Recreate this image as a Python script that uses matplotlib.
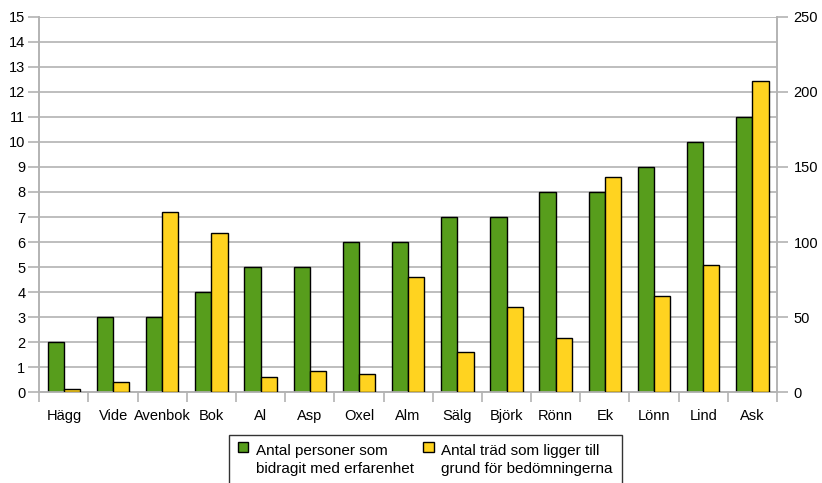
import matplotlib
matplotlib.use("Agg")
import matplotlib.pyplot as plt
from matplotlib.patches import Rectangle
from matplotlib.legend_handler import HandlerBase
import numpy as np

categories = ["Hägg", "Vide", "Avenbok", "Bok", "Al", "Asp", "Oxel", "Alm",
              "Sälg", "Björk", "Rönn", "Ek", "Lönn", "Lind", "Ask"]
personer = [2, 3, 3, 4, 5, 5, 6, 6, 7, 7, 8, 8, 9, 10, 11]
trad = [2, 7, 120, 106, 10, 14, 12, 77, 27, 57, 36, 143, 64, 85, 207]
label_personer = "Antal personer som\nbidragit med erfarenhet"
label_trad = "Antal träd som ligger till\ngrund för bedömningerna"

plt.rcParams['font.family'] = ['Liberation Sans', 'DejaVu Sans']
plt.rcParams['font.size'] = 10.5

fig = plt.figure(figsize=(8.22, 4.83), dpi=100)
W, H = 822, 483
left, right, top, bottom = 39.3, 777, 16.7, 392.3
ax = fig.add_axes([left / W, 1 - bottom / H, (right - left) / W, (bottom - top) / H])
ax2 = ax.twinx()

x = np.arange(len(categories))
bw = 0.33
green = "#579d1c"
yellow = "#ffd320"
b1 = ax.bar(x - bw / 2, personer, bw, color=green, edgecolor="black", linewidth=1.0,
            label=label_personer, zorder=3)
b2 = ax2.bar(x + bw / 2, trad, bw, color=yellow, edgecolor="black", linewidth=1.0,
             label=label_trad, zorder=3)

ax.set_xlim(-0.5, len(categories) - 0.5)
ax.set_ylim(0, 15)
ax2.set_ylim(0, 250)
ax.set_yticks(range(0, 16))
ax2.set_yticks(range(0, 251, 50))

gray = "#b3b3b3"
ax.yaxis.grid(True, color=gray, linewidth=1.2, zorder=0)
ax.set_axisbelow(True)
for a in (ax, ax2):
    for s in a.spines.values():
        s.set_color(gray)
        s.set_linewidth(1.2)
    a.spines['top'].set_visible(False)

ax.set_xticks(x)
ax.set_xticklabels(categories)
ax.tick_params(axis='x', length=0, pad=12, colors="black")
ax.set_xticks(np.arange(-0.5, len(categories), 1), minor=True)
ax.tick_params(axis='x', which='minor', length=7, color=gray, width=1.2)
ax.tick_params(axis='y', length=8, color=gray, width=1.2, pad=2)
ax2.tick_params(axis='y', length=8, color=gray, width=1.2, pad=4)


class TopSquare(HandlerBase):
    def __init__(self, shift, **kw):
        super().__init__(**kw)
        self.shift = shift

    def create_artists(self, legend, orig_handle, xdescent, ydescent, width,
                       height, fontsize, trans):
        r = Rectangle((-xdescent, -ydescent + self.shift), width, height,
                      facecolor=orig_handle.patches[0].get_facecolor(),
                      edgecolor="black", linewidth=1.0, transform=trans)
        return [r]


lfs = 11
leg = fig.legend(handles=[b1, b2], labels=[label_personer, label_trad],
                 loc="upper left", bbox_to_anchor=(228.5 / W, 1 - 434.7 / H),
                 borderaxespad=0, ncol=2, frameon=True, fancybox=False,
                 edgecolor="black", handlelength=0.69, handleheight=0.655,
                 handletextpad=0.48, columnspacing=0.62, borderpad=0.6,
                 fontsize=lfs,
                 handler_map={b1: TopSquare(9.5), b2: TopSquare(9.5)})
leg.get_frame().set_linewidth(1.0)
for t in leg.get_texts():
    t.set_linespacing(1.42)

fig.savefig("out.png", dpi=100)
